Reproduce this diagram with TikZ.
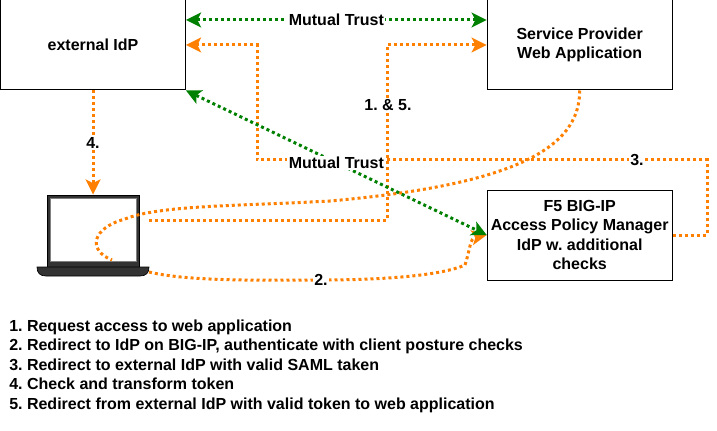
\documentclass[tikz,border=0pt]{standalone}
\usepackage{fontspec}
\setmainfont{Liberation Sans}
\usetikzlibrary{arrows.meta}
\definecolor{flowor}{HTML}{FF8000}
\definecolor{trustgr}{HTML}{008000}
\definecolor{laptopgr}{HTML}{333333}
\frenchspacing
\begin{document}
\begin{tikzpicture}[x=0.75pt,y=-0.75pt,
  boxnode/.style={draw=black,line width=0.75pt,minimum width=138.75pt,minimum height=67.5pt,inner sep=0pt,align=center,font=\bfseries\fontsize{12}{14.6}\selectfont},
  labelnode/.style={fill=white,text=black,inner sep=1pt,font=\bfseries\fontsize{12}{14}\selectfont},
  flow/.style={flowor,line width=2.25pt,dash pattern=on 2.25pt off 2.25pt},
  trust/.style={trustgr,line width=2.25pt,dash pattern=on 2.25pt off 2.25pt}]
\useasboundingbox (0,0) rectangle (717,431);
\tikzset{flowtip/.style={-{Stealth[length=11.5pt,width=11.5pt,inset=3pt,flowor,line width=0pt]}}}
\tikzset{trusttip/.style={{Stealth[length=11.5pt,width=11.5pt,inset=3pt,trustgr,line width=0pt]}-{Stealth[length=11.5pt,width=11.5pt,inset=3pt,trustgr,line width=0pt]}}}
\node [boxnode] (idp) at (93,45) {external IdP};
\node [boxnode] (sp) at (579.7,45) {Service Provider\\Web Application};
\node [boxnode] (apm) at (579.7,235) {F5 BIG-IP\\Access Policy Manager\\IdP w. additional\\checks};
% laptop
\node [fill=laptopgr,draw=black,line width=0.75pt,minimum width=69pt,minimum height=54pt,inner sep=0pt] (laptop) at (93,231) {};
\node [fill=white,draw=gray,line width=0.5pt,minimum width=64.5pt,minimum height=47pt,inner sep=0pt] (screen) at (93,229.5) {};
\fill [laptopgr,draw=black,line width=0.5pt] (37,267) -- (149,267) .. controls (149,273) and (146,276) .. (140,276) -- (46,276) .. controls (40,276) and (37,273) .. (37,267) -- cycle;
\coordinate (lapa) at (149,220);
\coordinate (lapb) at (149,272);
\coordinate (lapc) at (112,260);
\coordinate (turnsp) at (387,45);
\coordinate (corna) at (387,220);
\coordinate (cornb) at (707,235);
\coordinate (cornc) at (707,160);
\coordinate (cornd) at (257,160);
\coordinate (corne) at (257,45);
% orange flows
\draw [flow,flowtip] (lapa) -- (corna) -- (turnsp) -- (sp.west |- turnsp);
\draw [flow] (sp.south) .. controls (580,150) and (510,185) .. (330,201) .. controls (240,206) and (160,205) .. (125,219) .. controls (92,228) and (87,250) .. (lapc);
\draw [flow,flowtip] (lapb) .. controls (190,282) and (270,280) .. (320,280) .. controls (380,280) and (440,276) .. (465,265) .. controls (470,250) and (470,238) .. (apm.west);
\draw [flow,flowtip] (apm.east) -- (cornb) -- (cornc) -- (cornd) -- (corne) -- (idp.east |- corne);
\draw [flow,flowtip] (idp.south) -- (laptop.north);
% trust
\draw [trust,trusttip] (idp.east |- 0,20) -- (sp.west |- 0,20) node [midway,labelnode] (trusta) {Mutual Trust};
\draw [trust,trusttip] (idp.south east) -- (apm.west) node [midway,labelnode] (trustb) {Mutual Trust};
% labels
\node [labelnode] (stepa) at (388,105) {1. \& 5.};
\node [labelnode] (stepb) at (321,280) {2.};
\node [labelnode] (stepc) at (637,160) {3.};
\node [labelnode] (stepd) at (93,143) {4.};
\node [anchor=north west,inner sep=0pt,align=left,font=\bfseries\fontsize{12}{14.6}\selectfont] (legend) at (9,319.5) {1. Request access to web application\\2. Redirect to IdP on BIG-IP, authenticate with client posture checks\\3. Redirect to external IdP with valid SAML taken\\4. Check and transform token\\5. Redirect from external IdP with valid token to web application};
\end{tikzpicture}
\end{document}
